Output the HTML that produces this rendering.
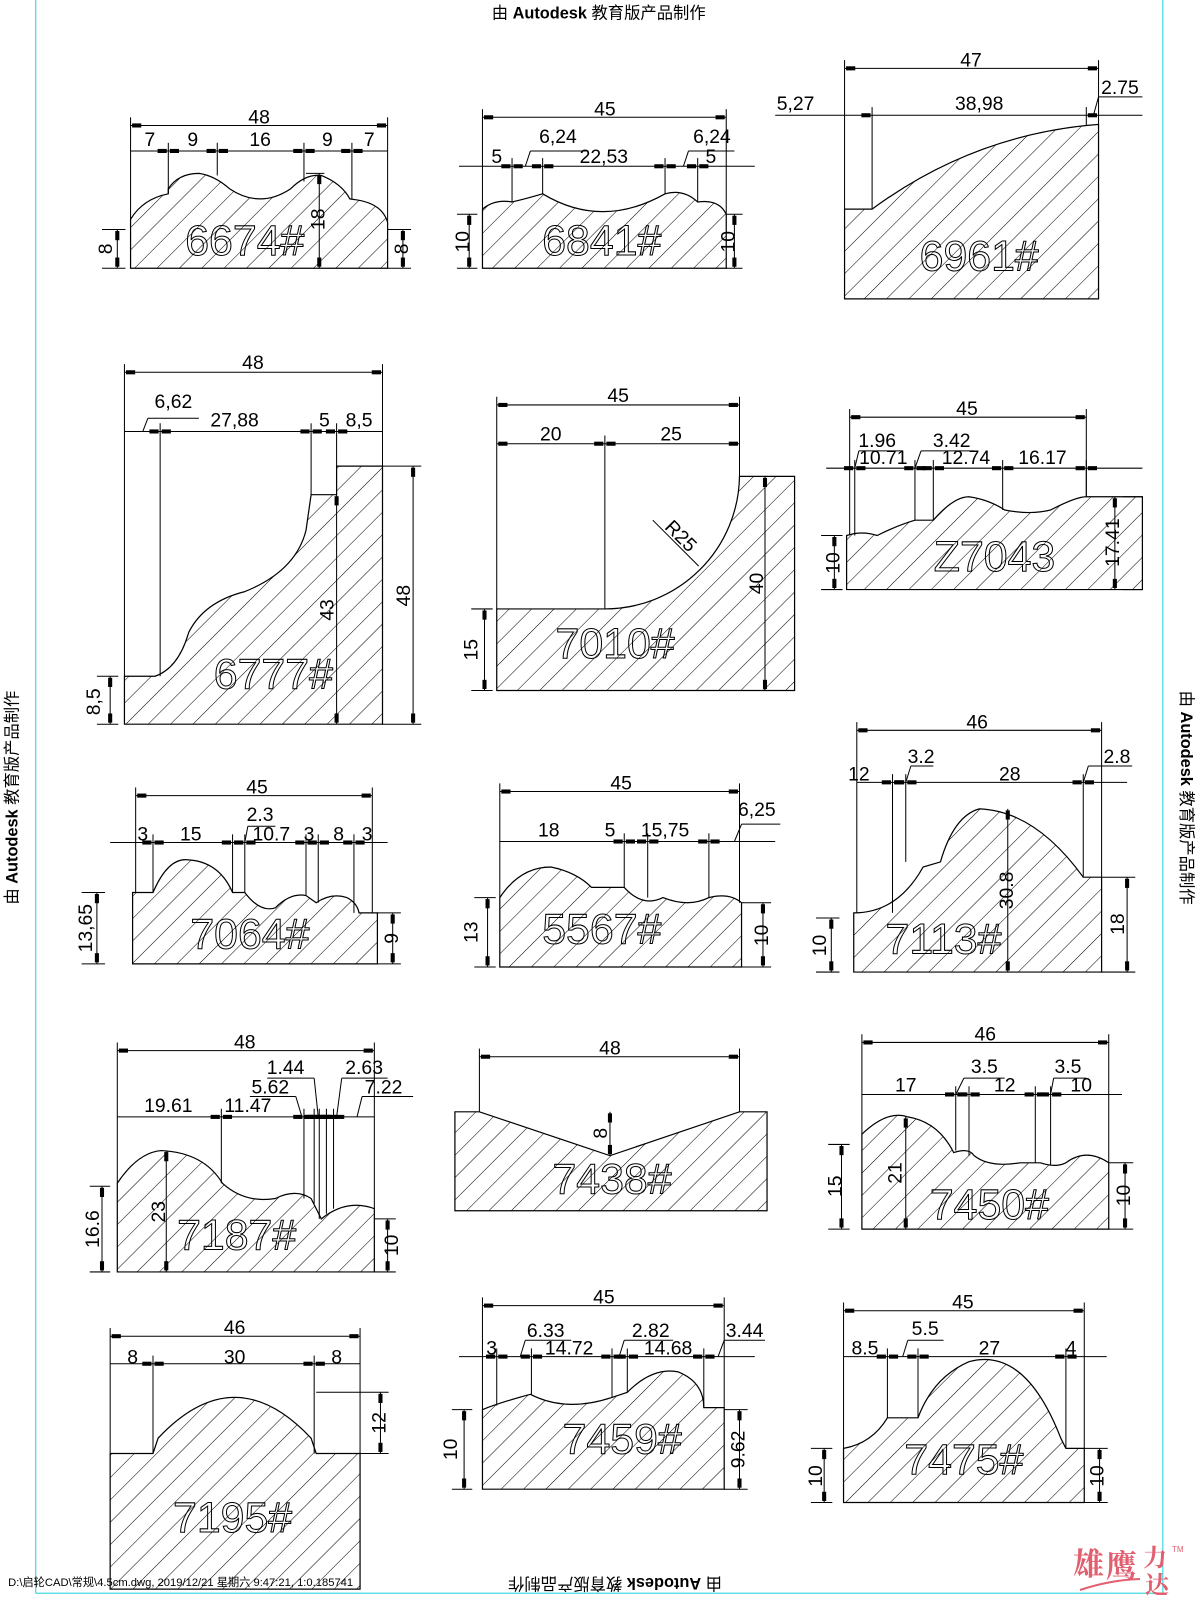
<!DOCTYPE html>
<html><head><meta charset="utf-8"><style>
html,body{margin:0;padding:0;background:#fff;width:1200px;height:1600px;overflow:hidden}
svg{display:block}
.t{font-family:"Liberation Sans","Noto Sans CJK SC",sans-serif;font-size:19px;fill:#000}
.big{font-family:"Liberation Sans",sans-serif;font-size:42px;fill:none;stroke:#000;stroke-width:1}
.cn{font-family:"Liberation Sans","Noto Sans CJK SC",sans-serif;font-size:16px;fill:#000}
</style></head><body>
<svg id="s" width="1200" height="1600" viewBox="0 0 1200 1600" xmlns="http://www.w3.org/2000/svg">
<defs><pattern id="h" width="15.5" height="15.5" patternUnits="userSpaceOnUse" patternTransform="rotate(45)"><line x1="0" y1="0" x2="0" y2="15.5" stroke="#000" stroke-width="1"/></pattern></defs>
<g transform="scale(1.02)">
<g fill="none" stroke="#44d8e0" stroke-width="1.2"><line x1="35" y1="0" x2="35" y2="1562"/><line x1="1140" y1="0" x2="1140" y2="1562"/><line x1="35" y1="1562" x2="1140" y2="1562"/></g>
<g fill="url(#h)" stroke="#000" stroke-width="1.2">
<path d="M128,263 L128,215 Q140,195 165,190 L165,185 Q175,170 195,170 Q210,172 225,185 Q255,205 285,185 Q300,170 315,172 Q335,180 343,195 L350,196 Q375,200 380,218 L380,263 Z"/>
<path d="M473,263 L473,205 Q485,195 502,198 Q515,195 532,190 Q590,225 652,190 Q670,185 684,198 Q705,195 712,210 L712,263 Z"/>
<path d="M828,293 L828,205 L855,205 Q950,135 1065,123 L1077,122 L1077,293 Z"/>
<path d="M122,710 L122,663 L152,663 Q175,655 185,620 Q200,590 240,580 Q290,560 300,520 L305,485 L330,485 L330,457 L375,457 L375,710 Z"/>
<path d="M487,677 L487,597 L593,597 A132,132 0 0 0 725,467 L779,467 L779,677 Z"/>
<path d="M830,578 L830,525 Q845,520 860,525 Q880,515 897,510 L915,510 Q935,487 950,487 Q970,490 985,500 Q1010,505 1030,500 Q1055,487 1065,487 L1120,487 L1120,578Z"/>
<path d="M130,945 L130,875 L150,875 Q165,840 185,843 Q215,845 228,875 L240,875 Q255,895 270,890 Q285,875 300,878 L310,885 Q325,875 340,880 Q350,885 352,895 L370,895 L370,945Z"/>
<path d="M490,948 L490,880 Q510,850 540,850 Q565,855 580,870 L612,870 Q630,890 650,880 Q675,890 695,880 Q715,875 727,885 L727,948Z"/>
<path d="M837,953 L837,895 Q880,895 905,850 L922,845 Q935,800 960,793 Q1015,795 1062,860 L1080,860 L1080,953Z"/>
<path d="M115,1247 L115,1160 Q135,1130 158,1128 Q200,1130 218,1160 Q240,1180 270,1175 Q290,1165 305,1175 L315,1195 Q340,1175 367,1185 L367,1247Z"/>
<path d="M446,1187 L446,1090 L470,1090 L598,1133 L725,1090 L752,1090 L752,1187Z"/>
<path d="M845,1205 L845,1112 Q870,1088 890,1095 Q920,1100 935,1130 Q950,1125 955,1133 Q970,1145 1000,1140 L1020,1140 Q1035,1145 1045,1140 Q1065,1125 1087,1140 L1087,1205Z"/>
<path d="M108,1558 L108,1425 L150,1425 L155,1410 Q230,1330 305,1410 L310,1425 L353,1425 L353,1558Z"/>
<path d="M473,1460 L473,1382 Q490,1375 520,1367 Q555,1385 600,1370 L615,1365 Q640,1340 665,1345 Q690,1355 690,1380 L710,1380 L710,1460Z"/>
<path d="M827,1473 L827,1420 Q855,1415 870,1390 L900,1390 Q915,1350 950,1335 Q1005,1320 1040,1410 L1045,1420 L1063,1420 L1063,1473Z"/>
</g>
<g id="d" stroke="#000" stroke-width="1" fill="none"></g>
<g>
<text class="big" x="240" y="250" text-anchor="middle">6674#</text>
<text class="big" x="590" y="250" text-anchor="middle">6841#</text>
<text class="big" x="960" y="265" text-anchor="middle">6961#</text>
<text class="big" x="268" y="675" text-anchor="middle">6777#</text>
<text class="big" x="603" y="645" text-anchor="middle">7010#</text>
<text class="big" x="975" y="560" text-anchor="middle">Z7043</text>
<text class="big" x="245" y="930" text-anchor="middle">7064#</text>
<text class="big" x="590" y="925" text-anchor="middle">5567#</text>
<text class="big" x="925" y="935" text-anchor="middle">7113#</text>
<text class="big" x="232" y="1225" text-anchor="middle">7187#</text>
<text class="big" x="600" y="1170" text-anchor="middle">7438#</text>
<text class="big" x="970" y="1195" text-anchor="middle">7450#</text>
<text class="big" x="228" y="1502" text-anchor="middle">7195#</text>
<text class="big" x="610" y="1425" text-anchor="middle">7459#</text>
<text class="big" x="945" y="1445" text-anchor="middle">7475#</text>
</g>
<g class="t" text-anchor="middle">
<text x="254" y="121">48</text><text x="147" y="143">7</text><text x="189" y="143">9</text><text x="255" y="143">16</text><text x="321" y="143">9</text><text x="362" y="143">7</text>
<text x="593" y="113">45</text><text x="547" y="140">6,24</text><text x="698" y="140">6,24</text><text x="487" y="160">5</text><text x="592" y="160">22,53</text><text x="697" y="160">5</text>
<text x="952" y="65">47</text><text x="780" y="108">5,27</text><text x="960" y="108">38,98</text><text x="1098" y="92">2.75</text>
<text x="248" y="362">48</text><text x="170" y="400">6,62</text><text x="230" y="418">27,88</text><text x="318" y="418">5</text><text x="352" y="418">8,5</text>
<text x="606" y="394">45</text><text x="540" y="432">20</text><text x="658" y="432">25</text>
<text x="948" y="407">45</text><text x="860" y="438">1.96</text><text x="866" y="455">10.71</text><text x="933" y="438">3.42</text><text x="947" y="455">12.74</text><text x="1022" y="455">16.17</text>
<text x="252" y="778">45</text><text x="140" y="824">3</text><text x="187" y="824">15</text><text x="255" y="805">2.3</text><text x="266" y="824">10.7</text><text x="303" y="824">3</text><text x="332" y="824">8</text><text x="360" y="824">3</text>
<text x="609" y="774">45</text><text x="538" y="820">18</text><text x="598" y="820">5</text><text x="652" y="820">15,75</text><text x="742" y="800">6,25</text>
<text x="958" y="714">46</text><text x="842" y="765">12</text><text x="903" y="748">3.2</text><text x="990" y="765">28</text><text x="1095" y="748">2.8</text>
<text x="240" y="1028">48</text><text x="165" y="1090">19.61</text><text x="243" y="1090">11.47</text><text x="265" y="1072">5.62</text><text x="280" y="1053">1.44</text><text x="357" y="1053">2.63</text><text x="376" y="1072">7.22</text>
<text x="598" y="1034">48</text>
<text x="966" y="1020">46</text><text x="888" y="1070">17</text><text x="965" y="1052">3.5</text><text x="985" y="1070">12</text><text x="1047" y="1052">3.5</text><text x="1060" y="1070">10</text>
<text x="230" y="1308">46</text><text x="130" y="1337">8</text><text x="230" y="1337">30</text><text x="330" y="1337">8</text>
<text x="592" y="1278">45</text><text x="482" y="1328">3</text><text x="535" y="1311">6.33</text><text x="558" y="1328">14.72</text><text x="638" y="1311">2.82</text><text x="655" y="1328">14.68</text><text x="730" y="1311">3.44</text>
<text x="944" y="1283">45</text><text x="848" y="1328">8.5</text><text x="907" y="1309">5.5</text><text x="970" y="1328">27</text><text x="1050" y="1328">4</text>
</g>
<g class="t" text-anchor="middle">
<text transform="translate(110,244) rotate(-90)">8</text><text transform="translate(400,244) rotate(-90)">8</text><text transform="translate(318,215) rotate(-90)">18</text>
<text transform="translate(460,237) rotate(-90)">10</text><text transform="translate(720,237) rotate(-90)">10</text>
<text transform="translate(98,688) rotate(-90)">8,5</text><text transform="translate(327,598) rotate(-90)">43</text><text transform="translate(402,584) rotate(-90)">48</text>
<text transform="translate(468,637) rotate(-90)">15</text><text transform="translate(748,572) rotate(-90)">40</text>
<text transform="translate(663,530) rotate(45)">R25</text>
<text transform="translate(823,552) rotate(-90)">10</text><text transform="translate(1097,532) rotate(-90)">17.41</text>
<text transform="translate(90,910) rotate(-90)">13,65</text><text transform="translate(390,920) rotate(-90)">9</text>
<text transform="translate(468,914) rotate(-90)">13</text><text transform="translate(753,917) rotate(-90)">10</text>
<text transform="translate(810,927) rotate(-90)">10</text><text transform="translate(993,873) rotate(-90)">30.8</text><text transform="translate(1102,906) rotate(-90)">18</text>
<text transform="translate(97,1205) rotate(-90)">16.6</text><text transform="translate(162,1188) rotate(-90)">23</text><text transform="translate(390,1221) rotate(-90)">10</text>
<text transform="translate(595,1111) rotate(-90)">8</text>
<text transform="translate(825,1163) rotate(-90)">15</text><text transform="translate(884,1150) rotate(-90)">21</text><text transform="translate(1108,1172) rotate(-90)">10</text>
<text transform="translate(378,1395) rotate(-90)">12</text>
<text transform="translate(448,1421) rotate(-90)">10</text><text transform="translate(730,1421) rotate(-90)">9.62</text>
<text transform="translate(806,1447) rotate(-90)">10</text><text transform="translate(1082,1447) rotate(-90)">10</text>
</g>
<text class="cn" x="587" y="18" text-anchor="middle">由 <tspan font-weight="bold">Autodesk</tspan> 教育版产品制作</text>
<text class="cn" transform="translate(603,1547) rotate(180)" text-anchor="middle">由 <tspan font-weight="bold">Autodesk</tspan> 教育版产品制作</text>
<text class="cn" transform="translate(17,782) rotate(-90)" text-anchor="middle">由 <tspan font-weight="bold">Autodesk</tspan> 教育版产品制作</text>
<text class="cn" transform="translate(1158,782) rotate(90)" text-anchor="middle">由 <tspan font-weight="bold">Autodesk</tspan> 教育版产品制作</text>
<text x="8" y="1555" style="font-family:'Liberation Sans','Noto Sans CJK SC',sans-serif;font-size:11px">D:\启轮CAD\常规\4.5cm.dwg, 2019/12/21 星期六 9:47:21, 1:0.185741</text>
</g>
<g style="font-family:'Noto Serif CJK SC','Noto Sans CJK SC',sans-serif;fill:#e06070;font-weight:bold">
<text x="1073" y="1575" font-size="31">雄</text>
<text x="1106" y="1577" font-size="31">鹰</text>
<text x="1143" y="1566" font-size="24">力</text>
<text x="1145" y="1593" font-size="24">达</text>
</g>
<path d="M1080,1590 Q1110,1580 1140,1579" stroke="#e06070" stroke-width="2" fill="none"/>
<text x="1172" y="1552" style="font-family:'Liberation Sans',sans-serif;font-size:8px;fill:#e06070">TM</text>
</svg>
<script>
var g=document.getElementById('d'),o='';
function L(a,b,c,d){o+='<line x1="'+a+'" y1="'+b+'" x2="'+c+'" y2="'+d+'"/>';}
function T(x,y,v){o+=v?'<rect x="'+(x-1.5)+'" y="'+(y-4)+'" width="3" height="8" fill="#000"/>':'<rect x="'+(x-4)+'" y="'+(y-1.5)+'" width="8" height="3" fill="#000"/>';}
function H(x1,x2,y,y0,y1b){L(x1,y,x2,y);T(x1+6,y,0);T(x2-6,y,0);L(x1,y-8,x1,y0);L(x2,y-8,x2,y1b===undefined?y0:y1b);}
function V(x,y1,y2,ex){L(x,y1,x,y2);T(x,y1+6,1);T(x,y2-6,1);if(ex!==undefined){L(ex,y1,x+8,y1);L(ex,y2,x+8,y2);}}
function S(x1,x2,y,xs){L(x1,y,x2,y);xs.forEach(function(a){T(a-6,y,0);T(a+6,y,0);});}
function VL(xs,y,ys){xs.forEach(function(x,i){L(x,y-8,x,ys[i]);});}
H(128,380,123,215,218);S(128,380,148,[165,213,298,345]);VL([165,213,298,345],148,[190,172,178,195]);
V(115,225,263,100);V(395,225,263,380);V(313,170,263);L(300,170,318,170);
H(473,712,115,205,210);S(450,740,163,[502,532,652,684]);VL([502,532,652,684],163,[198,190,190,198]);
V(460,210,263,448);V(720,210,263,712);L(520,148,515,163);L(520,148,575,148);L(675,148,670,163);L(675,148,720,148);
H(828,1077,67,205,122);L(760,113,1120,113);T(849,113,0);T(1071,113,0);L(855,105,855,205);L(1065,105,1065,123);L(1077,95,1120,95);L(1077,95,1072,113);
H(122,375,365,663,457);S(122,375,423,[157,305,330]);VL([157,305,330],423,[663,485,457]);L(145,410,140,423);L(145,410,195,410);
V(108,663,710,95);V(330,485,710);V(405,457,710,375);
H(487,725,397,597,467);L(487,435,725,435);T(493,435,0);T(587,435,0);T(599,435,0);T(719,435,0);L(593,427,593,597);
V(475,597,677,462);V(750,467,677);L(640,510,685,555);
H(833,1065,409,525,487);S(810,1120,459,[838,897,915,983,1065]);VL([838,897,915,983,1065],459,[525,510,510,500,487]);
L(842,442,838,459);L(842,442,885,442);L(903,442,897,459);L(903,442,955,442);
V(818,525,578,805);V(1093,487,578,1120);
H(133,365,780,875,895);S(108,380,826,[150,228,240,300,312,347]);VL([150,228,240,300,312,347],826,[875,875,875,878,885,895]);L(243,810,240,826);L(243,810,270,810);
V(95,875,945,80);V(385,895,945,370);
H(490,725,776,880,885);S(490,760,825,[612,635,695]);VL([612,635,695],825,[870,880,880]);L(727,808,720,825);L(727,808,765,808);
V(478,880,948,465);V(748,885,948,727);
H(840,1080,716,895,860);S(840,1105,767,[875,888,1062]);VL([875,888,1062],767,[895,845,860]);L(893,751,888,767);L(893,751,915,751);L(1067,751,1062,767);L(1067,751,1110,751);
V(815,900,953,800);V(988,793,953);V(1105,860,953,1080);
H(115,367,1030,1160,1185);S(115,367,1095,[217,298,308,313,320,327]);VL([217,298,308,313,320,327],1095,[1160,1175,1180,1195,1190,1185]);
L(245,1075,290,1075);L(290,1075,296,1095);L(262,1057,308,1057);L(308,1057,312,1095);L(335,1057,380,1057);L(335,1057,330,1095);L(355,1075,405,1075);L(355,1075,350,1095);
V(100,1163,1247,88);V(163,1128,1247);V(380,1195,1247,367);
H(470,725,1036,1090,1090);V(598,1090,1133);
H(845,1087,1022,1112,1140);S(845,1100,1073,[937,950,1015,1030]);VL([937,950,1015,1030],1073,[1128,1133,1140,1142]);
L(945,1057,937,1073);L(945,1057,985,1057);L(1033,1057,1030,1073);L(1033,1057,1065,1057);
V(825,1122,1205,812);V(888,1095,1205);V(1103,1140,1205,1087);
H(108,353,1310,1425,1425);S(108,353,1337,[150,308]);VL([150,308],1337,[1425,1425]);V(373,1365,1425,310);
H(473,710,1280,1382,1380);S(450,740,1330,[487,521,600,615,690]);VL([487,521,600,615,690],1330,[1378,1367,1370,1365,1380]);
L(515,1314,510,1330);L(515,1314,560,1314);L(612,1314,607,1330);L(612,1314,660,1314);L(710,1314,704,1330);L(710,1314,750,1314);
V(455,1382,1460,443);V(725,1382,1460,710);
H(827,1063,1285,1420,1420);S(827,1085,1330,[870,900,1045]);VL([870,900,1045],1330,[1390,1390,1420]);L(890,1314,885,1330);L(890,1314,925,1314);
V(808,1420,1473,795);V(1078,1420,1473,1063);
g.innerHTML=o;
</script>
</body></html>
